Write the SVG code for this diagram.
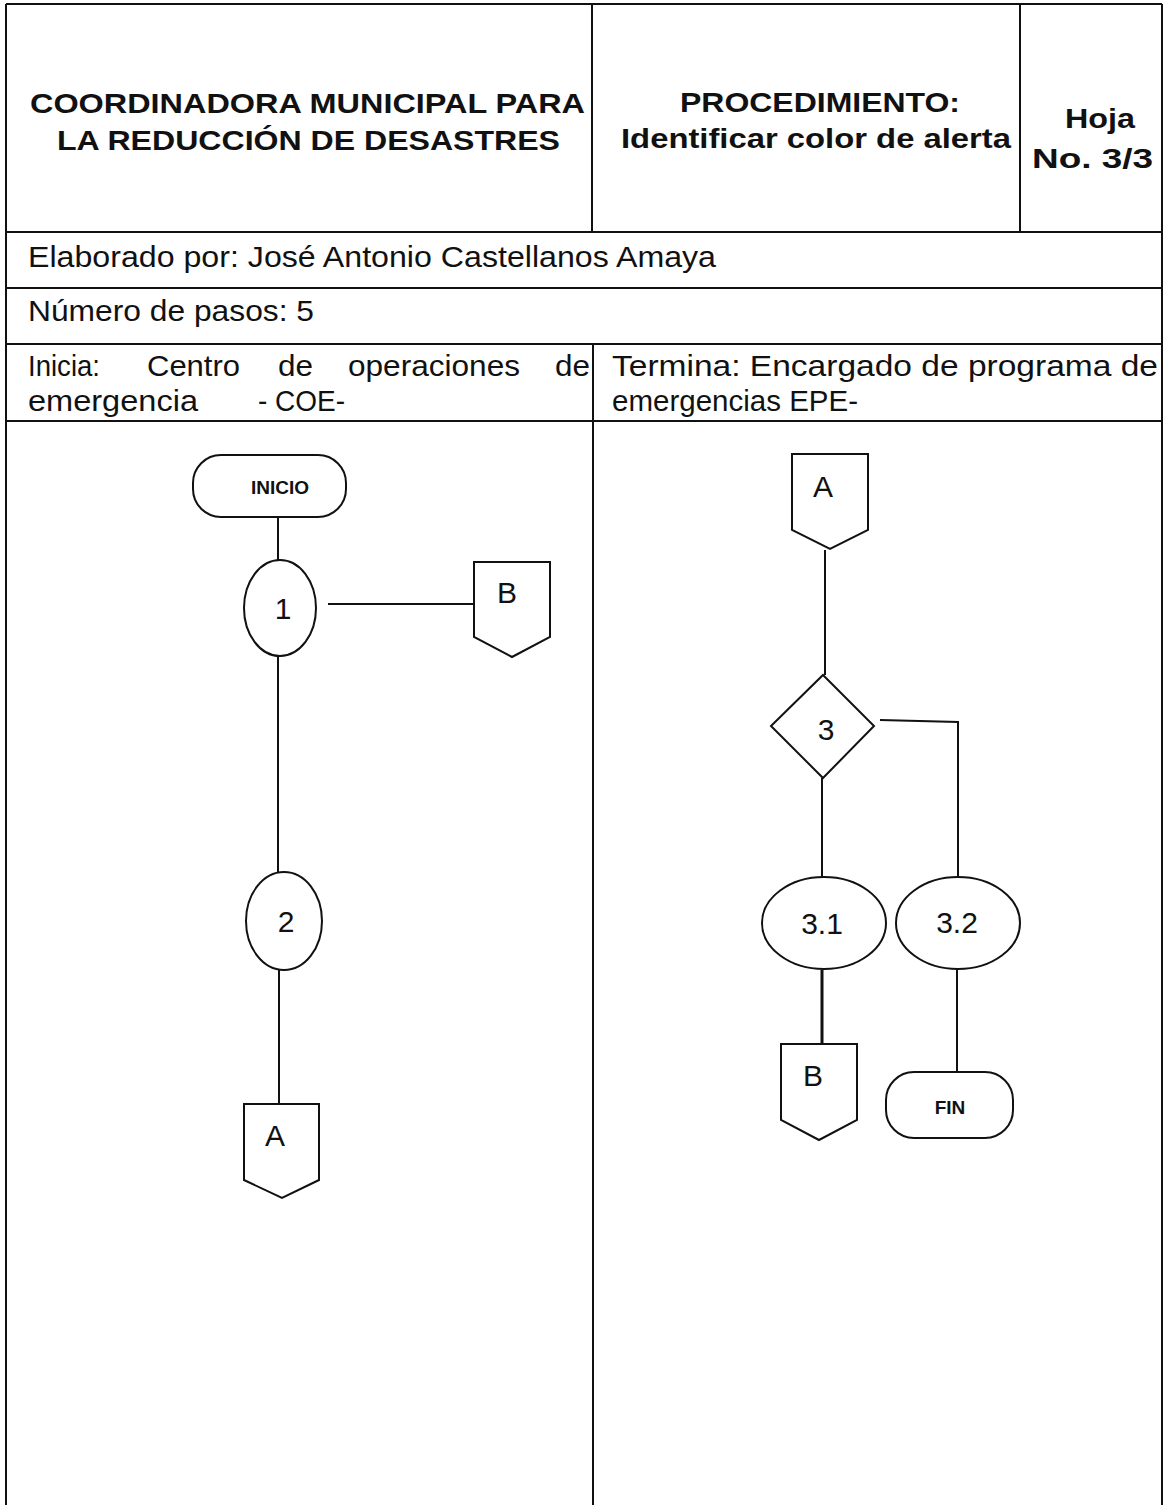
<svg xmlns="http://www.w3.org/2000/svg" width="1166" height="1505" viewBox="0 0 1166 1505">
<style>
.ln{stroke:#111;stroke-width:2;fill:none}
.sh{stroke:#111;stroke-width:2;fill:#fff}
.t{font-family:"Liberation Sans",Arial,sans-serif;fill:#111}
.hb{font-weight:bold;font-size:28px}
.rw{font-size:30px}
.lb{font-size:30px;text-anchor:middle}
.sm{font-size:19px;font-weight:bold;text-anchor:middle}
</style>
<rect width="1166" height="1505" fill="#fff"/>
<g id="table">
<line class="ln" x1="6" y1="4" x2="1162" y2="4"/>
<line class="ln" x1="6" y1="4" x2="6" y2="1505"/>
<line class="ln" x1="1162" y1="4" x2="1162" y2="1505"/>
<line class="ln" x1="592" y1="4" x2="592" y2="232"/>
<line class="ln" x1="1020" y1="4" x2="1020" y2="232"/>
<line class="ln" x1="6" y1="232" x2="1162" y2="232"/>
<line class="ln" x1="6" y1="288" x2="1162" y2="288"/>
<line class="ln" x1="6" y1="344" x2="1162" y2="344"/>
<line class="ln" x1="6" y1="421" x2="1162" y2="421"/>
<line class="ln" x1="593" y1="344" x2="593" y2="1505"/>
</g>
<g id="header">
<text class="t hb" x="30" y="113" textLength="555" lengthAdjust="spacingAndGlyphs">COORDINADORA MUNICIPAL PARA</text>
<text class="t hb" x="57" y="150" textLength="503" lengthAdjust="spacingAndGlyphs">LA REDUCCIÓN DE DESASTRES</text>
<text class="t hb" x="680" y="112" textLength="280" lengthAdjust="spacingAndGlyphs">PROCEDIMIENTO:</text>
<text class="t hb" x="621" y="148" textLength="390" lengthAdjust="spacingAndGlyphs">Identificar  color de alerta</text>
<text class="t hb" x="1065" y="128" textLength="70" lengthAdjust="spacingAndGlyphs">Hoja</text>
<text class="t hb" x="1032" y="168" textLength="121" lengthAdjust="spacingAndGlyphs">No. 3/3</text>
<text class="t rw" x="28" y="267" textLength="688" lengthAdjust="spacingAndGlyphs">Elaborado por: José Antonio Castellanos Amaya</text>
<text class="t rw" x="28" y="321" textLength="286" lengthAdjust="spacingAndGlyphs">Número de pasos: 5</text>
<text class="t rw" x="28" y="376" textLength="72" lengthAdjust="spacingAndGlyphs">Inicia:</text>
<text class="t rw" x="147" y="376" textLength="93" lengthAdjust="spacingAndGlyphs">Centro</text>
<text class="t rw" x="278" y="376" textLength="35" lengthAdjust="spacingAndGlyphs">de</text>
<text class="t rw" x="348" y="376" textLength="172" lengthAdjust="spacingAndGlyphs">operaciones</text>
<text class="t rw" x="555" y="376" textLength="35" lengthAdjust="spacingAndGlyphs">de</text>
<text class="t rw" x="28" y="411" textLength="170" lengthAdjust="spacingAndGlyphs">emergencia</text>
<text class="t rw" x="258" y="411" textLength="87" lengthAdjust="spacingAndGlyphs">- COE-</text>
<text class="t rw" x="612" y="376" textLength="546" lengthAdjust="spacingAndGlyphs">Termina: Encargado de programa de</text>
<text class="t rw" x="612" y="411" textLength="246" lengthAdjust="spacingAndGlyphs">emergencias EPE-</text>
</g>
<g id="connectors">
<line class="ln" x1="278" y1="517" x2="278" y2="560"/>
<line class="ln" x1="328" y1="604" x2="474" y2="604"/>
<line class="ln" x1="278" y1="657" x2="278" y2="872"/>
<line class="ln" x1="279" y1="970" x2="279" y2="1104"/>
<line class="ln" x1="825" y1="550" x2="825" y2="675"/>
<polyline class="ln" points="880,720 958,722 958,877"/>
<line class="ln" x1="822" y1="778" x2="822" y2="877"/>
<line class="ln" x1="822" y1="970" x2="822" y2="1044" style="stroke-width:3"/>
<line class="ln" x1="957" y1="970" x2="957" y2="1072"/>
</g>
<g id="inicio">
<rect class="sh" x="193" y="455" width="153" height="62" rx="28"/>
<text class="t sm" x="280" y="494">INICIO</text>
</g>
<g id="step1">
<ellipse class="sh" cx="280" cy="608" rx="36" ry="48"/>
<text class="t lb" x="283" y="619">1</text>
</g>
<g id="connB1">
<path class="sh" d="M474,562 H550 V637 L512,657 L474,637 Z"/>
<text class="t lb" x="507" y="603">B</text>
</g>
<g id="step2">
<ellipse class="sh" cx="284" cy="921" rx="38" ry="49"/>
<text class="t lb" x="286" y="932">2</text>
</g>
<g id="connA1">
<path class="sh" d="M244,1104 H319 V1180 L282,1198 L244,1180 Z"/>
<text class="t lb" x="275" y="1146">A</text>
</g>
<g id="connA2">
<path class="sh" d="M792,454 H868 V530 L830,549 L792,530 Z"/>
<text class="t lb" x="823" y="497">A</text>
</g>
<g id="decision3">
<path class="sh" d="M823,675 L874,726 L823,778 L771,726 Z"/>
<text class="t lb" x="826" y="740">3</text>
</g>
<g id="step31">
<ellipse class="sh" cx="824" cy="923" rx="62" ry="46"/>
<text class="t lb" x="822" y="934">3.1</text>
</g>
<g id="step32">
<ellipse class="sh" cx="958" cy="923" rx="62" ry="46"/>
<text class="t lb" x="957" y="933">3.2</text>
</g>
<g id="connB2">
<path class="sh" d="M781,1044 H857 V1120 L819,1140 L781,1120 Z"/>
<text class="t lb" x="813" y="1086">B</text>
</g>
<g id="fin">
<rect class="sh" x="886" y="1072" width="127" height="66" rx="28"/>
<text class="t sm" x="950" y="1114">FIN</text>
</g>
</svg>
